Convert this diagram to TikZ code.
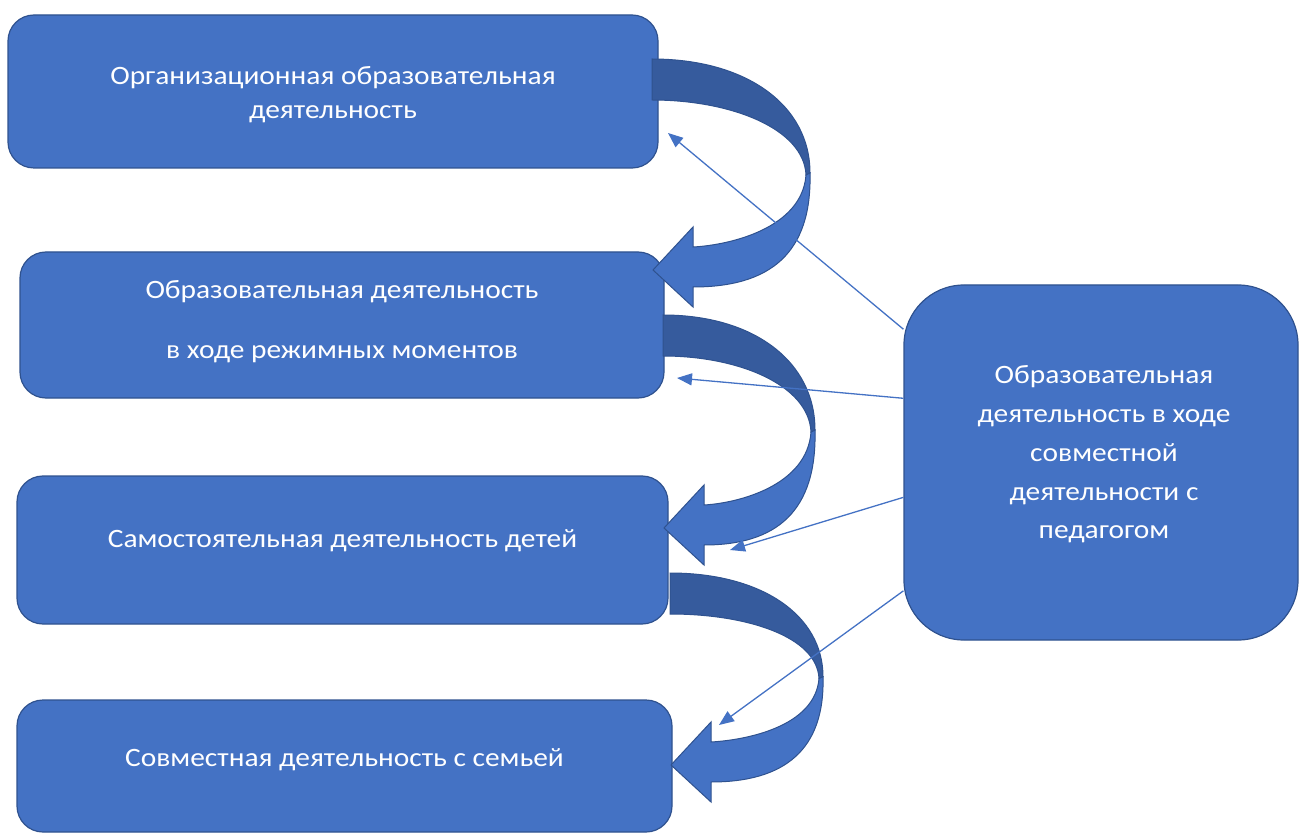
\documentclass[tikz,border=0pt]{standalone}
\usepackage{fontspec}
\setmainfont{Carlito}[FakeStretch=1.11]
\usetikzlibrary{arrows.meta}
\definecolor{boxblue}{HTML}{4472C4}
\definecolor{boxedge}{HTML}{2F528F}
\definecolor{darkband}{HTML}{365B9D}
\newcommand\bandarrow[4]{%
\begin{scope}[shift={(#1,#2)}]
\pgfmathsetmacro\W{#3}\pgfmathsetmacro\H{#4}
\fill[darkband, draw=boxedge, line width=1pt] (0,0) .. controls ({0.6*\W},0) and (\W,{0.22*\H}) .. (\W,{0.54*\H}) -- ({\W-4},{0.55*\H}) .. controls ({\W-6},{0.33*\H}) and ({0.5*\W},41) .. (0,41) -- cycle;
\fill[boxblue, draw=boxedge, line width=1pt] (\W,{0.54*\H}) .. controls ({\W+2},{0.92*\H}) and ({0.75*\W},{\H+17}) .. (41,{\H+17}) -- (41,{\H+37}) -- (1,\H) -- (41,{\H-43}) -- (41,{\H-23}) .. controls ({0.5*\W},{\H-25}) and ({\W-8},{0.8*\H}) .. ({\W-4},{0.55*\H}) -- cycle;
\end{scope}}
\begin{document}
\begin{tikzpicture}[x=1pt,y=-1pt,
  box/.style={draw=boxedge, fill=boxblue, line width=1.2pt, rounded corners=26pt, inner sep=0pt},
  bigbox/.style={box, rounded corners=60pt},
  txt/.style={text=white, align=center, font=\fontsize{26.5}{34}\selectfont, inner sep=0pt},
  thin/.style={draw=boxblue, line width=1.3pt, -{Triangle[length=15pt,width=12pt]}}]
\useasboundingbox (0,0) rectangle (1299,834);
\node[box, minimum width=650pt, minimum height=153pt] (b1) at (333,91.5) {};
\node[box, minimum width=644pt, minimum height=146pt] (b2) at (342,325) {};
\node[box, minimum width=651pt, minimum height=148pt] (b3) at (342.5,550) {};
\node[box, minimum width=655pt, minimum height=132pt] (b4) at (344.5,766) {};
\node[bigbox, minimum width=394pt, minimum height=355pt] (r) at (1101,462.5) {};
\node[txt] (t1) at (333,95) {Организационная образовательная\\деятельность};
\node[txt, font=\fontsize{26.5}{60}\selectfont] (t2) at (342,322) {Образовательная деятельность\\в ходе режимных моментов};
\node[txt] (t3) at (342.5,541) {Самостоятельная деятельность детей};
\node[txt] (t4) at (344.5,760) {Совместная деятельность с семьей};
\node[txt, font=\fontsize{26.5}{38.75}\selectfont] (tr) at (1104,454.5) {Образовательная\\деятельность в ходе\\совместной\\деятельности с\\педагогом};
\bandarrow{652}{59}{158}{211}
\bandarrow{663}{315}{152}{213}
\bandarrow{670}{573}{153}{192}
\coordinate (e1) at (668,133);
\coordinate (e2) at (677,378);
\coordinate (e3) at (730,550);
\coordinate (e4) at (719,725);
\draw[thin] (r.146.1) -- (e1);
\draw[thin] (r.162.4) -- (e2);
\draw[thin] (r.190.8) -- (e3);
\draw[thin] (r.213.5) -- (e4);
\end{tikzpicture}
\end{document}
